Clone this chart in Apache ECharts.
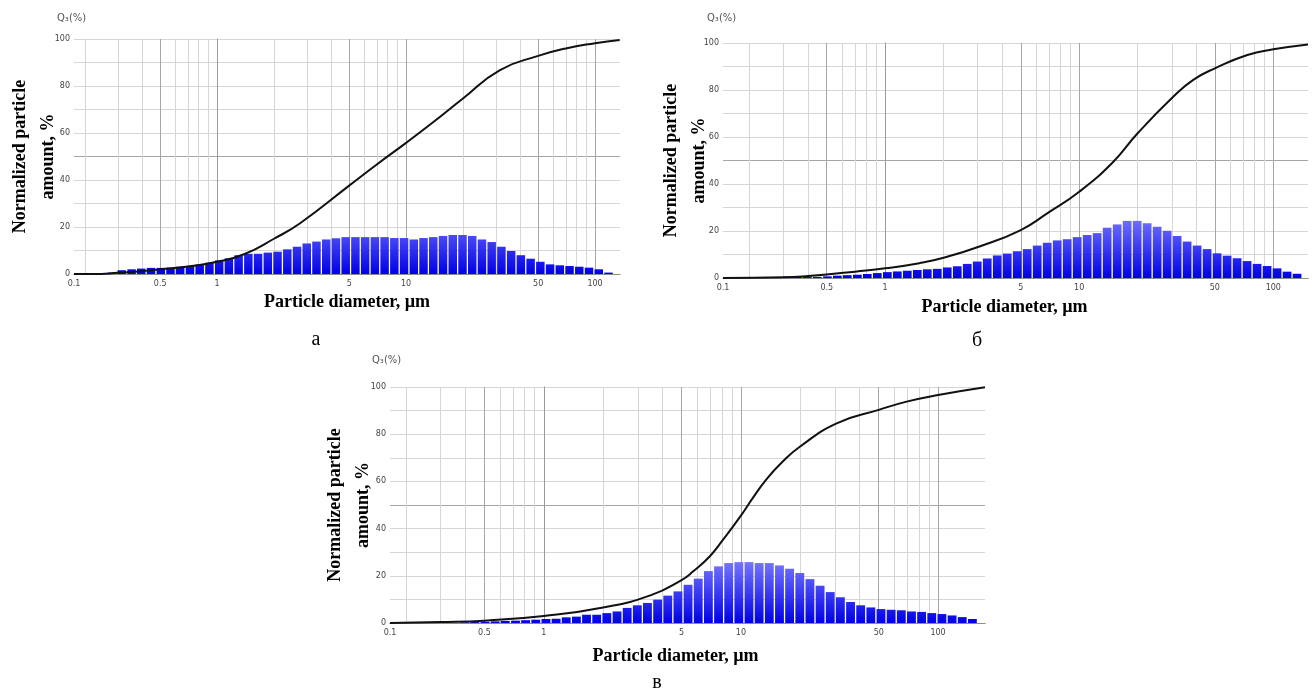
<!DOCTYPE html>
<html>
<head>
<meta charset="utf-8">
<script src="https://cdn.jsdelivr.net/npm/echarts@6/dist/echarts.min.js"></script>
<style>
html, body { margin: 0; padding: 0; background: #fff; }
#main { width: 1314px; height: 697px; }
</style>
</head>
<body>
<div id="main"></div>
<script>
// channel centres of the size analyser, µm
const diameters = [0.247, 0.278, 0.313, 0.353, 0.397, 0.447, 0.504, 0.567, 0.638, 0.719,
  0.809, 0.911, 1.026, 1.155, 1.300, 1.464, 1.648, 1.856, 2.089, 2.353,
  2.649, 2.982, 3.357, 3.781, 4.256, 4.792, 5.395, 6.074, 6.839, 7.700,
  8.670, 9.761, 10.99, 12.37, 13.93, 15.69, 17.66, 19.89, 22.39, 25.21,
  28.38, 31.95, 35.98, 40.50, 45.60, 51.35, 57.81, 65.09, 73.28, 82.51,
  92.90, 104.6, 117.8, 132.6, 149.3];

// q3 histograms (%), one value per channel
const qA = [0, 0.6, 1.6, 2.0, 2.3, 2.6, 2.6, 2.7, 3.1, 3.4,
  4.1, 4.8, 5.8, 6.7, 8.0, 8.6, 8.6, 9.1, 9.5, 10.5,
  11.6, 13.0, 13.8, 14.7, 15.2, 15.7, 15.7, 15.7, 15.7, 15.7,
  15.3, 15.3, 14.7, 15.3, 15.7, 16.2, 16.6, 16.6, 16.2, 14.7,
  13.6, 11.6, 9.8, 8.0, 6.5, 5.2, 4.1, 3.7, 3.4, 3.1,
  2.7, 2.0, 0.6, 0, 0];
const qB = [0.2, 0.3, 0.6, 0.6, 0.6, 0.5, 0.7, 1.0, 1.2, 1.4,
  1.7, 2.1, 2.5, 2.8, 3.1, 3.4, 3.7, 3.9, 4.5, 5.0,
  6.0, 7.0, 8.3, 9.6, 10.4, 11.4, 12.3, 13.8, 15.0, 16.0,
  16.5, 17.4, 18.3, 19.1, 21.4, 22.8, 24.3, 24.3, 23.3, 21.8,
  20.1, 17.9, 15.5, 13.8, 12.3, 10.5, 9.5, 8.4, 7.2, 6.0,
  5.1, 4.1, 2.7, 1.8, 0];
const qC = [0, 0, 0, 0.1, 0.3, 0.4, 0.5, 0.7, 0.9, 1.0,
  1.2, 1.4, 1.7, 1.8, 2.4, 2.7, 3.5, 3.5, 4.2, 4.9,
  6.4, 7.5, 8.5, 9.9, 11.6, 13.4, 16.2, 18.8, 22.0, 24.0,
  25.4, 25.8, 25.8, 25.4, 25.4, 24.4, 23.0, 21.2, 18.6, 15.8,
  13.1, 10.9, 8.9, 7.5, 6.6, 5.9, 5.6, 5.4, 4.9, 4.7,
  4.2, 3.8, 3.2, 2.5, 1.7];

// cumulative Q3 curves (%)
const cumDA = [0.175, 0.22, 0.3, 0.4, 0.5, 0.7, 1, 1.4, 2, 2.75, 5, 7, 10, 14, 20, 31.4, 50, 70, 100, 135];
const cumA = [0, 0, 0.5, 1.2, 2.0, 3.2, 5.2, 8.5, 15.0, 21.6, 37.6, 46.6, 55.8, 64.8, 74.7, 86.8, 92.8, 96.0, 98.2, 99.6];
const cumDB = [0.146, 0.3, 0.4, 0.5, 0.7, 1, 1.5, 2, 3.09, 5, 6.84, 10, 15, 20, 30.5, 38.7, 50, 73.5, 100, 151];
const cumB = [0, 0.3, 0.8, 1.5, 2.7, 4.1, 6.3, 8.6, 13.5, 20.4, 27.5, 36.7, 49.5, 61.6, 77.1, 84.3, 89.2, 94.9, 97.3, 99.4];
const cumDC = [0.166, 0.3, 0.5, 1, 2, 3.5, 5, 5.73, 6.96, 8.1, 10, 11.5, 13.5, 16.3, 19.9, 30.6, 50, 69.3, 100, 173];
const cumC = [0, 0.4, 1.0, 3.0, 6.6, 11.8, 18.2, 21.9, 28.3, 35.2, 45.5, 53.0, 61.0, 68.4, 74.7, 84.6, 90.3, 93.8, 96.6, 99.9];

// x extent of each panel, µm (left edge is marked 0.1 in the original)
const rangeA = [0.175, 135.5];
const rangeB = [0.146, 151];
const rangeC = [0.166, 173];

const majorX = [0.5, 1, 5, 10, 50, 100];
const minorX = [0.2, 0.3, 0.4, 0.6, 0.7, 0.8, 0.9, 2, 3, 4, 6, 7, 8, 9, 20, 30, 40, 60, 70, 80, 90];
const firstXLabel = '0.1';

const lg = Math.log10;
const serif = 'Liberation Serif, Times New Roman, serif';
const smallFont = { fontSize: 8, color: '#444', fontFamily: 'DejaVu Sans, Liberation Sans, sans-serif' };

const panels = [
  { box: { left: 74, top: 39, width: 546, height: 235 }, range: rangeA, q: qA, cd: cumDA, cv: cumA, yGap: 12, xGap: 19, xShift: 0 },
  { box: { left: 723, top: 43, width: 585, height: 235 }, range: rangeB, q: qB, cd: cumDB, cv: cumB, yGap: 10, xGap: 20, xShift: 22 },
  { box: { left: 390, top: 387, width: 595, height: 236 }, range: rangeC, q: qC, cd: cumDC, cv: cumC, yGap: 13, xGap: 24, xShift: 24 }
];

const grid = [], xAxis = [], yAxis = [], series = [];

panels.forEach(function (p, i) {
  grid.push(Object.assign({ outerBoundsMode: 'none', containLabel: false }, p.box));
  const xmin = lg(p.range[0]), xmax = lg(p.range[1]);

  // bottom axis: light grid at 2..9 multiples, labels
  xAxis.push({
    type: 'value', gridIndex: i, position: 'bottom', min: xmin, max: xmax,
    axisLine: { show: true, lineStyle: { color: '#9a9a9a', width: 1 } },
    axisTick: { show: false, customValues: minorX.map(lg) },
    splitLine: { show: true, lineStyle: { color: '#d6d6d6', width: 1 } },
    axisLabel: Object.assign({
      customValues: [xmin].concat(majorX.map(lg)),
      margin: 6,
      formatter: function (v) {
        if (Math.abs(v - xmin) < 1e-6) return firstXLabel;
        return String(+Math.pow(10, v).toPrecision(2));
      }
    }, smallFont),
    name: 'Particle diameter, µm', nameLocation: 'middle', nameGap: p.xGap, nameMoveOverlap: false,
    nameTextStyle: { fontFamily: serif, fontWeight: 'bold', fontSize: 18, color: '#000', padding: [0, p.xShift, 0, 0] }
  });
  // top axis: darker grid at 0.5, 1, 5 ... and the top frame
  xAxis.push({
    type: 'value', gridIndex: i, position: 'top', min: xmin, max: xmax,
    axisLine: { show: true, lineStyle: { color: '#8c8c8c', width: 1 } },
    axisTick: { show: false, customValues: majorX.map(lg) },
    splitLine: { show: true, lineStyle: { color: '#a6a6a6', width: 1 } },
    axisLabel: { show: false }
  });

  yAxis.push({
    type: 'value', gridIndex: i, min: 0, max: 100, interval: 10,
    axisLine: { show: true, lineStyle: { color: '#9a9a9a' } },
    axisTick: { show: false },
    splitLine: { show: true, lineStyle: { color: '#d6d6d6', width: 1 } },
    axisLabel: Object.assign({ margin: 4, formatter: function (v) { return v % 20 === 0 ? String(v) : ''; } }, smallFont),
    name: 'Normalized particle\namount, %', nameLocation: 'middle', nameGap: p.yGap, nameRotate: 90, nameMoveOverlap: false,
    nameTextStyle: { fontFamily: serif, fontWeight: 'bold', fontSize: 18, lineHeight: 28, color: '#000' }
  });
  yAxis.push({
    type: 'value', gridIndex: i, min: 0, max: 100, position: 'right',
    axisLine: { show: false }, axisLabel: { show: false },
    axisTick: { show: false, customValues: [50] },
    splitLine: { show: true, lineStyle: { color: '#a6a6a6', width: 1 } }
  });

  const base = p.box.top + p.box.height;
  series.push({
    type: 'bar', xAxisIndex: 2 * i, yAxisIndex: 2 * i, barWidth: '88%', silent: true,
    data: diameters.map(function (d, k) { return [lg(d), p.q[k]]; }),
    itemStyle: {
      color: new echarts.graphic.LinearGradient(0, base - p.box.height * 0.27, 0, base, [
        { offset: 0, color: '#7a7aff' },
        { offset: 1, color: '#0000e6' }
      ], true)
    }
  });
  series.push({
    type: 'line', xAxisIndex: 2 * i, yAxisIndex: 2 * i, smooth: 0.5,
    symbol: 'none', silent: true, z: 5,
    lineStyle: { color: '#111', width: 2 },
    data: p.cd.map(function (d, k) { return [lg(d), p.cv[k]]; })
  });
});

function qLabel(x, y) {
  return { type: 'text', x: x, y: y, style: { text: 'Q₃(%)', fontSize: 10, fontFamily: 'DejaVu Sans, sans-serif', fill: '#555' } };
}
function caption(t, x, y) {
  return { type: 'text', x: x, y: y, style: { text: t, fontSize: 20, fontFamily: serif, fill: '#000', align: 'center', verticalAlign: 'middle' } };
}

const chart = echarts.init(document.getElementById('main'));
chart.setOption({
  animation: false,
  backgroundColor: '#fff',
  grid: grid,
  xAxis: xAxis,
  yAxis: yAxis,
  series: series,
  graphic: [
    qLabel(57, 13), qLabel(707, 13), qLabel(372, 355),
    caption('а', 316, 340), caption('б', 977, 341), caption('в', 657, 683)
  ]
});
</script>
</body>
</html>
